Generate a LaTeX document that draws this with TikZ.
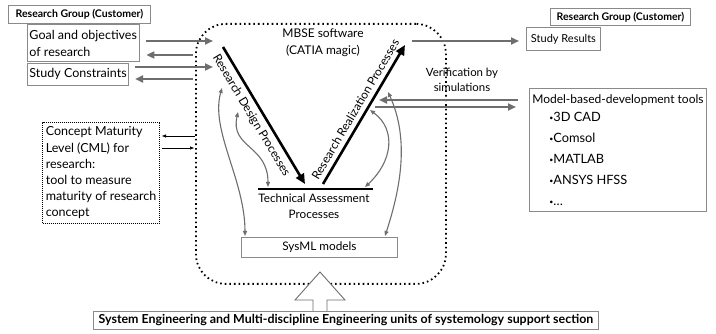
\documentclass[tikz,border=0pt]{standalone}
\usepackage{fontspec}
\setmainfont{Lato}
\usetikzlibrary{arrows.meta}
\definecolor{agray}{HTML}{6E6E6E}
\definecolor{bgray}{HTML}{8A8A8A}
\begin{document}
\begin{tikzpicture}[x=1pt,y=-1pt,
  font=\fontsize{11}{15}\selectfont,
  box/.style={draw=bgray, line width=0.9pt, inner sep=2pt},
  bbox/.style={box, font=\fontsize{10.5}{12}\selectfont\bfseries},
  garrow/.style={draw=agray, line width=2pt, -{Triangle[length=8pt,width=7pt]}},
  carrow/.style={draw=agray, line width=1.1pt, {Triangle[length=5pt,width=4pt]}-{Triangle[length=5pt,width=4pt]}},
  karrow/.style={draw=black, line width=0.7pt, -{Triangle[length=4pt,width=3pt]}},
  vline/.style={draw=black, line width=2.6pt},
  vlinearrow/.style={vline, -{Triangle[length=10pt,width=9pt]}},
  dotbox/.style={draw=black, line width=1.8pt, dash pattern=on 1.6pt off 3pt, rounded corners=30pt},
]
\useasboundingbox[fill=white] (0,0) rectangle (716,334);

% left boxes
\node[bbox, minimum width=142, minimum height=18, anchor=north west] (rgL) at (8,5) {Research Group (Customer)};
\node[box, minimum width=109, minimum height=37, anchor=north west, align=left, font=\fontsize{12.5}{17}\selectfont] (goal) at (27,24) {Goal and objectives\\of research};
\node[box, minimum width=97, minimum height=22, anchor=north west, align=left, font=\fontsize{12.5}{14}\selectfont] (cons) at (27,63) {Study Constraints};
\node[draw=black, line width=1pt, dash pattern=on 1pt off 1pt, minimum width=117, minimum height=101, anchor=north west, align=left, inner sep=1.5pt, font=\fontsize{12.5}{16.2}\selectfont] (cml) at (42,122) {Concept Maturity\\Level (CML) for\\research:\\tool to measure\\maturity of research\\concept};

% MBSE dotted region
\node[dotbox, minimum width=250, minimum height=260, anchor=north west] (mbse) at (195,23) {};
\node[align=center, font=\fontsize{12}{17}\selectfont] (mbsetext) at (323,43) {MBSE software\\(CATIA magic)};

% V lines
\coordinate (d1) at (223,47);
\coordinate (d2) at (305,184);
\coordinate (r1) at (323,184);
\coordinate (r2) at (405,45);
\coordinate (t1) at (258,189);
\coordinate (t2) at (373,189);
\draw[vlinearrow] (d1) -- node[sloped, below=1pt, pos=0.46, font=\fontsize{11.8}{13}\selectfont] (dtext) {Research Design Processes} (d2);
\draw[vlinearrow] (r1) -- node[sloped, above=1pt, pos=0.5, font=\fontsize{11.8}{13}\selectfont] (rtext) {Research Realization Processes} (r2);
\draw[vline] (t1) -- (t2);
\node[align=center, font=\fontsize{11.7}{16}\selectfont] (ttext) at (314,206) {Technical Assessment\\Processes};

\node[box, minimum width=156, minimum height=20, anchor=north west, font=\fontsize{11.8}{13}\selectfont] (sysml) at (241,237) {SysML models};

% curved arrows
\coordinate (c1a) at (222,88);  \coordinate (c1b) at (245,236);
\coordinate (c2a) at (238,112); \coordinate (c2b) at (268,187);
\coordinate (c3a) at (370,110); \coordinate (c3b) at (365,187);
\coordinate (c4a) at (388,92);  \coordinate (c4b) at (385,236);
\draw[carrow] (c1a) .. controls (210,130) and (245,180) .. (c1b);
\draw[carrow] (c2a) .. controls (230,148) and (268,145) .. (c2b);
\draw[carrow] (c3a) .. controls (397,130) and (392,162) .. (c3b);
\draw[carrow] (c4a) .. controls (410,140) and (400,190) .. (c4b);

% left gray arrows
\coordinate (gA) at (213,41);
\coordinate (gB) at (193,55);
\coordinate (gC) at (213,67);
\coordinate (gD) at (193,79);
\draw[garrow, shorten <=7pt] (goal.east |- gA) -- (gA);
\draw[garrow, shorten >=7pt] (gB) -- (goal.east |- gB);
\draw[garrow, shorten <=6pt] (cons.east |- gC) -- (gC);
\draw[garrow, shorten >=6pt] (gD) -- (cons.east |- gD);

% CML arrows
\coordinate (kA) at (195,136);
\coordinate (kB) at (194,148);
\draw[karrow, shorten >=2pt] (kA) -- (cml.east |- kA);
\draw[karrow, shorten <=2pt] (cml.east |- kB) -- (kB);

% right side
\node[bbox, minimum width=140, minimum height=17, anchor=north west] (rgR) at (550,8) {Research Group (Customer)};
\node[box, minimum width=74, minimum height=23, anchor=north west] (results) at (526,27) {Study Results};
\coordinate (sr) at (412,41);
\draw[garrow, shorten >=7pt] (sr) -- (results.west |- sr);

\node[align=center, font=\fontsize{11.4}{15.5}\selectfont] (verif) at (462,80) {Verification by\\simulations};

\node[box, minimum width=177, minimum height=123, anchor=north west, align=left, inner sep=2pt, font=\fontsize{12}{21}\selectfont] (mbd) at (529,88) {Model-based-development tools\\[-3pt]
\hspace*{17pt}\raisebox{0.5pt}{\scriptsize\textbullet}{\fontsize{12.8}{21}\selectfont 3D CAD}\\
\hspace*{17pt}\raisebox{0.5pt}{\scriptsize\textbullet}{\fontsize{12.8}{21}\selectfont Comsol}\\
\hspace*{17pt}\raisebox{0.5pt}{\scriptsize\textbullet}{\fontsize{12.8}{21}\selectfont MATLAB}\\
\hspace*{17pt}\raisebox{0.5pt}{\scriptsize\textbullet}{\fontsize{12.8}{21}\selectfont ANSYS HFSS}\\
\hspace*{17pt}\raisebox{0.5pt}{\scriptsize\textbullet}{\fontsize{12.8}{21}\selectfont\dots}};
\coordinate (vA) at (379,100);
\coordinate (vB) at (375,107);
\draw[garrow, shorten <=11pt] (mbd.west |- vA) -- (vA);
\draw[garrow, shorten >=13pt] (vB) -- (mbd.west |- vB);

% bottom
\node[bbox, minimum width=505, minimum height=18, anchor=north west, font=\fontsize{12.4}{13}\selectfont\bfseries] (seu) at (93,311) {System Engineering and Multi-discipline Engineering units of systemology support section};
\coordinate (au) at (320,272);
\draw[draw=agray, line width=0.9pt, fill=white]
  (seu.north -| 313,0) -- (313,300) -- (295,300) -- (au) -- (345,300) -- (327,300) -- (seu.north -| 327,0);
\end{tikzpicture}
\end{document}
